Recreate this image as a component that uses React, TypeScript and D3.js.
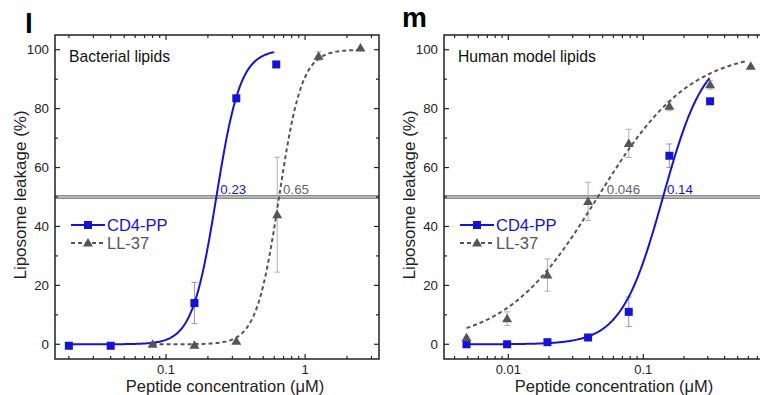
import * as d3 from 'd3';

const FONT = '"Liberation Sans", Arial, Helvetica, sans-serif';
const BLUE = '#1414d2';
const GREY = '#555555';
const INK = '#222222';

// panel l - bacterial lipids
const bacCd4Conc = [0.02, 0.04, 0.16, 0.32, 0.62];
const bacCd4Leak = [-0.5, -0.5, 14, 83.5, 95];
const bacCd4Err = [0, 0, 7, 1, 0];
const bacLLConc = [0.08, 0.16, 0.32, 0.63, 1.25, 2.5];
const bacLLLeak = [0, -0.3, 1, 44, 97.8, 100.6];
const bacLLErr = [0, 0, 0, 19.5, 1.5, 0];

// panel m - human model lipids
const humConc = [0.0049, 0.0098, 0.0195, 0.039, 0.078, 0.156, 0.3125, 0.625];
const humCd4Leak = [0, 0, 0.7, 2.3, 11, 64, 82.5];
const humCd4Err = [0, 0, 0.5, 0, 5, 4, 0];
const humLLLeak = [2.2, 8.7, 23.5, 48.5, 68.2, 80.8, 88.1, 94.4];
const humLLErr = [0.5, 2.3, 5.5, 6.5, 4.8, 1.5, 1.5, 0];

// Hill fits: ec50, slope, first and last concentration drawn
const bacCd4Fit = [0.23, 5, 0.02, 0.6];
const bacLLFit = [0.65, 5.3, 0.08, 2.5];
const humCd4Fit = [0.14, 2.82, 0.0049, 0.31];
const humLLFit = [0.046, 1.27, 0.0049, 0.58];

const yTicks = [0, 20, 40, 60, 80, 100];
const yMinor = [10, 30, 50, 70, 90];

type Series = { conc: number[]; leak: number[]; err: number[] };

type PanelProps = {
  letter: string;
  letterX: number;
  letterY: number;
  title: string;
  left: number;
  right: number;
  domain: [number, number];
  majors: number[];
  majorLabels: string[];
  cd4: Series;
  ll: Series;
  cd4Fit: number[];
  llFit: number[];
  cd4LabelDx: number;
  llLabelDx: number;
  titleX: number;
};

function hillPath(fit: number[], x: d3.ScaleLogarithmic<number, number>, y: d3.ScaleLinear<number, number>) {
  const [ec50, n, from, to] = fit;
  const pts = d3.range(0, 201).map((i) => {
    const c = Math.exp(Math.log(from) + (Math.log(to) - Math.log(from)) * (i / 200));
    return [c, 100 / (1 + Math.pow(ec50 / c, n))] as [number, number];
  });
  return d3.line<[number, number]>().x((d) => x(d[0])).y((d) => y(d[1]))(pts) || '';
}

function Square({ cx, cy }: { cx: number; cy: number }) {
  return <rect x={cx - 4} y={cy - 4} width={8} height={8} fill={BLUE} />;
}

function Triangle({ cx, cy }: { cx: number; cy: number }) {
  return <path d={`M${cx},${cy - 5}L${cx + 5},${cy + 3.5}L${cx - 5},${cy + 3.5}Z`} fill={GREY} />;
}

function ErrBar({ cx, y0, y1, color }: { cx: number; y0: number; y1: number; color: string }) {
  return (
    <g stroke={color} strokeWidth={1}>
      <line x1={cx} x2={cx} y1={y0} y2={y1} />
      <line x1={cx - 3} x2={cx + 3} y1={y0} y2={y0} />
      <line x1={cx - 3} x2={cx + 3} y1={y1} y2={y1} />
    </g>
  );
}

function Panel(p: PanelProps) {
  const top = 35;
  const bottom = 359;
  const x = d3.scaleLog().domain(p.domain).range([p.left, p.right]);
  const y = d3.scaleLinear().domain([-5, 105]).range([bottom, top]);

  const minors: number[] = [];
  for (let e = -4; e <= 1; e++) {
    for (let k = 2; k <= 9; k++) {
      const v = k * Math.pow(10, e);
      if (v > p.domain[0] && v < p.domain[1]) minors.push(v);
    }
  }

  const y50 = y(50);
  const legY = 225;
  const legX = p.left + 16;

  return (
    <g>
      <text x={p.letterX} y={p.letterY} fontSize={28} fontWeight="bold" fill="#000">{p.letter}</text>

      {/* 50 % reference line */}
      <line x1={p.left} x2={p.right} y1={y50} y2={y50} stroke="#666" strokeWidth={3.6} />
      <line x1={p.left} x2={p.right} y1={y50} y2={y50} stroke="#d0d0d0" strokeWidth={1.4} />

      {/* error bars */}
      {p.ll.conc.map((c, i) =>
        p.ll.err[i] > 0 ? (
          <ErrBar key={'le' + i} cx={x(c)} y0={y(p.ll.leak[i] - p.ll.err[i])} y1={y(p.ll.leak[i] + p.ll.err[i])} color="#b0b0b0" />
        ) : null
      )}
      {p.cd4.leak.map((v, i) =>
        p.cd4.err[i] > 0 ? (
          <ErrBar key={'ce' + i} cx={x(p.cd4.conc[i])} y0={y(v - p.cd4.err[i])} y1={y(v + p.cd4.err[i])} color="#9090e0" />
        ) : null
      )}

      {/* fits */}
      <path d={hillPath(p.llFit, x, y)} fill="none" stroke={GREY} strokeWidth={2} strokeDasharray="4,3" />
      <path d={hillPath(p.cd4Fit, x, y)} fill="none" stroke={BLUE} strokeWidth={2} />

      {/* markers */}
      {p.cd4.leak.map((v, i) => (
        <Square key={'cs' + i} cx={x(p.cd4.conc[i])} cy={y(v)} />
      ))}
      {p.ll.leak.map((v, i) => (
        <Triangle key={'lt' + i} cx={x(p.ll.conc[i])} cy={y(v)} />
      ))}

      {/* EC50 labels */}
      <text x={x(p.cd4Fit[0]) + p.cd4LabelDx} y={y50 - 3} fontSize={13.3} fill={BLUE}>{String(p.cd4Fit[0])}</text>
      <text x={x(p.llFit[0]) + p.llLabelDx} y={y50 - 3} fontSize={13.3} fill="#666">{String(p.llFit[0])}</text>

      <text x={p.left + 14} y={62} fontSize={15.7} fill="#111">{p.title}</text>

      {/* legend */}
      <line x1={legX} x2={legX + 34} y1={legY} y2={legY} stroke={BLUE} strokeWidth={2} />
      <Square cx={legX + 17} cy={legY} />
      <text x={legX + 36} y={legY + 6} fontSize={16.5} fill={BLUE}>CD4-PP</text>
      <line x1={legX} x2={legX + 34} y1={legY + 18} y2={legY + 18} stroke={GREY} strokeWidth={2} strokeDasharray="4,3" />
      <Triangle cx={legX + 17} cy={legY + 18} />
      <text x={legX + 36} y={legY + 24} fontSize={16.5} fill="#555">LL-37</text>

      {/* frame + inward ticks */}
      <rect x={p.left} y={top} width={p.right - p.left} height={bottom - top} fill="none" stroke={INK} strokeWidth={1.5} />
      <g stroke={INK} strokeWidth={1.2}>
        {p.majors.map((v) => (
          <g key={'mx' + v}>
            <line x1={x(v)} x2={x(v)} y1={bottom} y2={bottom - 5} />
            <line x1={x(v)} x2={x(v)} y1={top} y2={top + 5} />
          </g>
        ))}
        {minors.map((v) => (
          <g key={'nx' + v}>
            <line x1={x(v)} x2={x(v)} y1={bottom} y2={bottom - 3} />
            <line x1={x(v)} x2={x(v)} y1={top} y2={top + 3} />
          </g>
        ))}
        {yTicks.map((v) => (
          <g key={'my' + v}>
            <line x1={p.left} x2={p.left + 5} y1={y(v)} y2={y(v)} />
            <line x1={p.right} x2={p.right - 5} y1={y(v)} y2={y(v)} />
          </g>
        ))}
        {yMinor.map((v) => (
          <g key={'ny' + v}>
            <line x1={p.left} x2={p.left + 3} y1={y(v)} y2={y(v)} />
            <line x1={p.right} x2={p.right - 3} y1={y(v)} y2={y(v)} />
          </g>
        ))}
      </g>

      {/* tick labels */}
      {yTicks.map((v) => (
        <text key={'ly' + v} x={p.left - 6} y={y(v) + 4.5} fontSize={13.3} textAnchor="end" fill={INK}>{v}</text>
      ))}
      {p.majorLabels.map((lab, i) => (
        <text key={'lx' + lab} x={x(p.majors[i])} y={373.5} fontSize={13} textAnchor="middle" fill={INK}>{lab}</text>
      ))}

      {/* axis titles */}
      <text x={p.titleX} y={392} fontSize={16.5} textAnchor="middle" fill={INK}>Peptide concentration (μM)</text>
      <text transform={`translate(${p.left - 29},195) rotate(-90)`} fontSize={17} textAnchor="middle" fill={INK}>Liposome leakage (%)</text>
    </g>
  );
}

export default function App() {
  return (
    <svg width={760} height={395} style={{ position: 'absolute', left: 0, top: 0, fontFamily: FONT, background: '#fff' }}>
      <rect width={760} height={395} fill="#fff" />
      <Panel
        letter="l"
        letterX={25}
        letterY={33}
        title="Bacterial lipids"
        left={55}
        right={379}
        domain={[0.0159, 3.4]}
        majors={[0.1, 1]}
        majorLabels={['0.1', '1']}
        cd4={{ conc: bacCd4Conc, leak: bacCd4Leak, err: bacCd4Err }}
        ll={{ conc: bacLLConc, leak: bacLLLeak, err: bacLLErr }}
        cd4Fit={bacCd4Fit}
        llFit={bacLLFit}
        cd4LabelDx={4}
        llLabelDx={4}
        titleX={225}
      />
      <Panel
        letter="m"
        letterX={402}
        letterY={27}
        title="Human model lipids"
        left={444}
        right={789}
        domain={[0.00334, 1.2]}
        majors={[0.01, 0.1, 1]}
        majorLabels={['0.01', '0.1']}
        cd4={{ conc: humConc, leak: humCd4Leak, err: humCd4Err }}
        ll={{ conc: humConc, leak: humLLLeak, err: humLLErr }}
        cd4Fit={humCd4Fit}
        llFit={humLLFit}
        cd4LabelDx={4}
        llLabelDx={9}
        titleX={614}
      />
    </svg>
  );
}
